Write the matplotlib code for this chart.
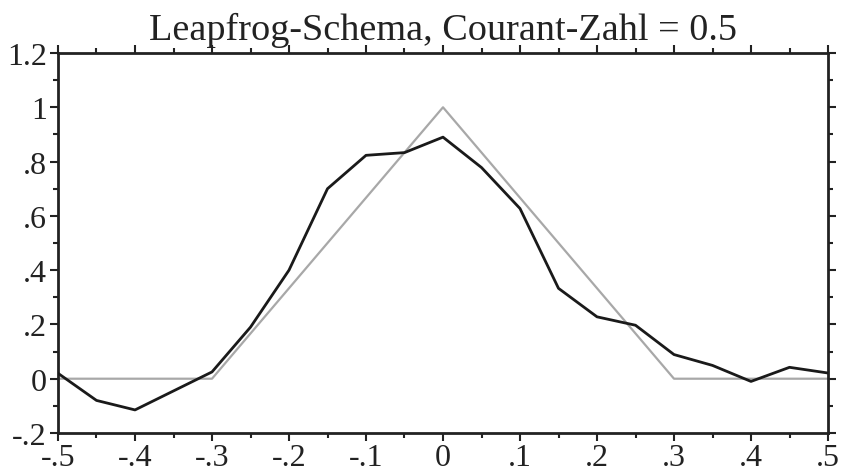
import matplotlib
matplotlib.use('Agg')
import matplotlib.pyplot as plt
from matplotlib.ticker import MultipleLocator, FuncFormatter

# Leapfrog-Loesung (schwarz) an den Gitterpunkten
x_num = [-0.5, -0.45, -0.4, -0.35, -0.3, -0.25, -0.2, -0.15, -0.1, -0.05, 0.0,
         0.05, 0.1, 0.15, 0.2, 0.25, 0.3, 0.35, 0.4, 0.45, 0.5]
y_num = [0.02, -0.08, -0.115, -0.045, 0.025, 0.19, 0.40, 0.70, 0.823, 0.833, 0.89,
         0.778, 0.627, 0.333, 0.228, 0.197, 0.089, 0.049, -0.01, 0.042, 0.021]

# exakte Loesung (grau)
x_exact = [-0.5, -0.3, 0.0, 0.3, 0.5]
y_exact = [0.0, 0.0, 1.0, 0.0, 0.0]

plt.rcParams['font.family'] = ['Liberation Serif', 'DejaVu Serif']
plt.rcParams['axes.unicode_minus'] = False

fig = plt.figure(figsize=(8.43, 4.77), dpi=100)
ax = fig.add_axes([58/843, 1 - 434/477, (828 - 58)/843, (434 - 54)/477])

ax.plot(x_exact, y_exact, color='#a8a8a8', lw=1.6, zorder=2)
ax.plot(x_num, y_num, color='#1a1a1a', lw=2.0, zorder=3)

ax.set_xlim(-0.5, 0.5)
ax.set_ylim(-0.2, 1.2)


def fmt(v, pos):
    s = '%g' % round(v, 3)
    s = s.replace('0.', '.')
    return s


ax.xaxis.set_major_locator(MultipleLocator(0.1))
ax.xaxis.set_minor_locator(MultipleLocator(0.05))
ax.yaxis.set_major_locator(MultipleLocator(0.2))
ax.yaxis.set_minor_locator(MultipleLocator(0.1))
ax.xaxis.set_major_formatter(FuncFormatter(fmt))
ax.yaxis.set_major_formatter(FuncFormatter(fmt))

ax.tick_params(which='both', direction='out', top=True, right=True,
               labeltop=False, labelright=False, width=1.5, colors='#222222',
               labelsize=23, labelcolor='#222222')
ax.tick_params(which='major', length=6)
ax.tick_params(which='minor', length=3.5)
ax.tick_params(axis='x', pad=1)
ax.tick_params(axis='y', pad=2)
for sp in ax.spines.values():
    sp.set_linewidth(2)
    sp.set_color('#222222')

ax.set_title('Leapfrog-Schema, Courant-Zahl = 0.5', fontsize=27.5, color='#222222', pad=10)

fig.savefig('out.png', dpi=100)
